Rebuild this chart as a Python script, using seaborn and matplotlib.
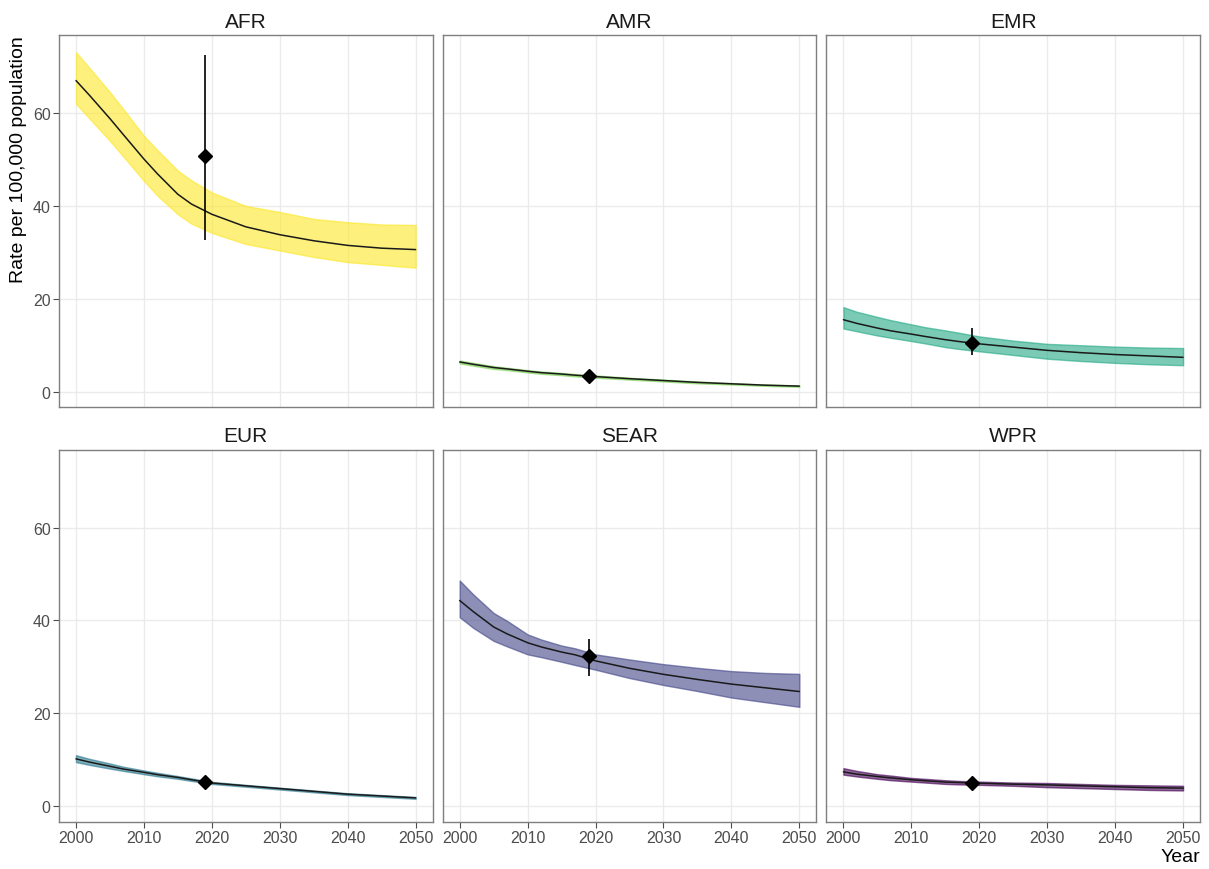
import numpy as np
import pandas as pd
import matplotlib
matplotlib.use("Agg")
import matplotlib.pyplot as plt
import seaborn as sns

# --- data ---
years = [2000, 2002, 2005, 2007, 2010, 2012, 2015, 2017, 2020,
         2025, 2030, 2035, 2040, 2045, 2050]
regions = ["AFR", "AMR", "EMR", "EUR", "SEAR", "WPR"]
colors = {"AFR": "#FDE725", "AMR": "#7AD151", "EMR": "#22A884",
          "EUR": "#2A788E", "SEAR": "#414487", "WPR": "#440154"}

afr_mid = [67.0, 63.8, 58.8, 55.3, 50.1, 46.9, 42.5, 40.4, 38.2, 35.5, 33.8, 32.5, 31.5, 30.9, 30.6]
afr_hi = [73.1, 69.7, 64.5, 60.8, 55.1, 52.0, 47.6, 45.5, 42.9, 40.0, 38.7, 37.2, 36.5, 36.0, 35.9]
afr_lo = [62.0, 58.8, 54.0, 50.6, 45.4, 42.2, 38.2, 36.2, 34.2, 31.8, 30.4, 29.0, 27.9, 27.3, 26.7]

amr_mid = [6.4, 5.9, 5.2, 4.9, 4.4, 4.1, 3.8, 3.55, 3.25, 2.8, 2.4, 2.0, 1.7, 1.4, 1.2]
amr_hi = [6.7, 6.2, 5.5, 5.15, 4.65, 4.35, 4.05, 3.8, 3.5, 3.0, 2.6, 2.2, 1.85, 1.55, 1.35]
amr_lo = [6.1, 5.6, 4.9, 4.65, 4.15, 3.85, 3.55, 3.3, 3.0, 2.6, 2.2, 1.8, 1.55, 1.25, 1.05]

emr_mid = [15.5, 14.7, 13.7, 13.1, 12.4, 11.9, 11.2, 10.8, 10.3, 9.6, 8.9, 8.4, 8.0, 7.7, 7.4]
emr_hi = [18.2, 17.2, 16.1, 15.4, 14.5, 13.9, 13.2, 12.7, 11.9, 11.0, 10.3, 10.0, 9.7, 9.5, 9.4]
emr_lo = [13.6, 13.0, 12.1, 11.6, 10.9, 10.4, 9.6, 9.2, 8.7, 7.9, 7.1, 6.6, 6.2, 5.9, 5.7]

eur_mid = [10.2, 9.5, 8.6, 8.0, 7.3, 6.8, 6.2, 5.7, 5.0, 4.4, 3.8, 3.2, 2.6, 2.2, 1.8]
eur_hi = [11.0, 10.2, 9.2, 8.5, 7.7, 7.2, 6.5, 6.0, 5.25, 4.6, 4.0, 3.4, 2.8, 2.4, 2.0]
eur_lo = [9.5, 8.9, 8.1, 7.6, 6.9, 6.45, 5.9, 5.45, 4.8, 4.2, 3.6, 3.0, 2.4, 2.0, 1.6]

sear_mid = [44.3, 41.9, 38.6, 37.1, 35.2, 34.3, 33.2, 32.6, 31.3, 29.7, 28.4, 27.3, 26.3, 25.5, 24.7]
sear_hi = [48.6, 45.6, 41.6, 39.9, 37.0, 35.9, 34.6, 34.0, 32.7, 31.6, 30.6, 29.8, 29.1, 28.7, 28.5]
sear_lo = [40.7, 38.4, 35.6, 34.4, 32.7, 32.1, 31.1, 30.4, 29.4, 27.6, 26.1, 24.8, 23.4, 22.4, 21.4]

wpr_mid = [7.4, 6.9, 6.4, 6.1, 5.7, 5.5, 5.2, 5.1, 4.95, 4.75, 4.6, 4.4, 4.2, 4.0, 3.9]
wpr_hi = [8.2, 7.6, 6.9, 6.6, 6.1, 5.9, 5.6, 5.45, 5.3, 5.1, 5.0, 4.8, 4.6, 4.5, 4.4]
wpr_lo = [6.8, 6.4, 5.9, 5.6, 5.3, 5.1, 4.8, 4.7, 4.6, 4.4, 4.1, 3.9, 3.7, 3.5, 3.4]

obs_year = 2019
obs_val = [50.8, 3.35, 10.5, 5.2, 32.3, 4.9]
obs_lo = [32.7, 2.9, 7.9, 4.9, 28.1, 4.6]
obs_hi = [72.4, 3.8, 13.7, 5.5, 36.0, 5.2]

mids = [afr_mid, amr_mid, emr_mid, eur_mid, sear_mid, wpr_mid]
his = [afr_hi, amr_hi, emr_hi, eur_hi, sear_hi, wpr_hi]
los = [afr_lo, amr_lo, emr_lo, eur_lo, sear_lo, wpr_lo]

proj = pd.concat([
    pd.DataFrame({"region": r, "year": years, "rate": m, "lo": lo, "hi": hi})
    for r, m, lo, hi in zip(regions, mids, los, his)
], ignore_index=True)
obs = pd.DataFrame({"region": regions, "year": obs_year, "rate": obs_val,
                    "lo": obs_lo, "hi": obs_hi})

# --- plot ---
sns.set_theme(style="whitegrid")
plt.rcParams["font.family"] = ["Liberation Sans", "DejaVu Sans"]


def draw_panel(data, **kws):
    ax = plt.gca()
    reg = data["region"].iloc[0]
    c = colors[reg]
    ax.fill_between(data["year"], data["lo"], data["hi"], facecolor=c,
                    alpha=0.6, edgecolor=c, linewidth=1.0, zorder=2)
    sns.lineplot(data=data, x="year", y="rate", color="#1a1a1a",
                 linewidth=1.1, ax=ax, zorder=3)
    o = obs[obs["region"] == reg]
    ax.errorbar(o["year"], o["rate"],
                yerr=[o["rate"] - o["lo"], o["hi"] - o["rate"]],
                fmt="D", color="black", markersize=7, elinewidth=1.2,
                capsize=0, zorder=4)


g = sns.FacetGrid(proj, col="region", col_wrap=3, col_order=regions,
                  sharex=True, sharey=True, height=4, aspect=1)
g.map_dataframe(draw_panel)
g.figure.set_size_inches(12.09, 8.7)
g.figure.subplots_adjust(left=0.0488, right=0.9926, top=0.9586, bottom=0.054,
                         wspace=0.027, hspace=0.113)
g.set_titles("{col_name}", size=15)
g.set(xlim=(1997.5, 2052.5), ylim=(-3.4, 76.8),
      xticks=[2000, 2010, 2020, 2030, 2040, 2050], yticks=[0, 20, 40, 60])

for i, ax in enumerate(g.axes.flat):
    ax.set_xlabel("")
    ax.set_ylabel("")
    ax.grid(True, color="#EBEBEB", linewidth=1.0)
    for s in ax.spines.values():
        s.set_visible(True)
        s.set_color("#7F7F7F")
        s.set_linewidth(1.0)
    ax.tick_params(axis="both", which="both", labelsize=11.5, colors="#4D4D4D",
                   length=4, width=0.8, direction="out", pad=2,
                   left=(i % 3 == 0), bottom=(i >= 3))
    ax.title.set_color("#1a1a1a")

g.axes.flat[0].set_ylabel("Rate per 100,000 population", fontsize=14,
                          loc="top", color="black")
g.axes.flat[5].set_xlabel("Year", fontsize=14, loc="right", color="black",
                          labelpad=2)

plt.savefig("out.png", dpi=100)
